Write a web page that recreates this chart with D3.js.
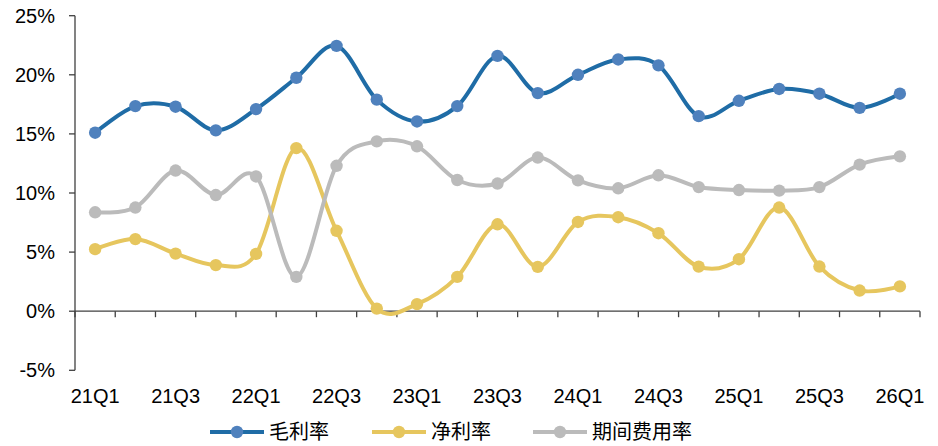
<!DOCTYPE html>
<html>
<head>
<meta charset="utf-8">
<script src="https://cdn.jsdelivr.net/npm/d3@7"></script>
<style>
  body { margin: 0; background: #fff; }
  svg { display: block; }
</style>
</head>
<body>
<svg id="chart" width="938" height="446"></svg>
<script>
// data
const quarters = ['21Q1', '21Q2', '21Q3', '21Q4', '22Q1', '22Q2', '22Q3', '22Q4', '23Q1', '23Q2', '23Q3',
  '23Q4', '24Q1', '24Q2', '24Q3', '24Q4', '25Q1', '25Q2', '25Q3', '25Q4', '26Q1'];
const grossMargin = [15.1, 17.35, 17.3, 15.3, 17.1, 19.75, 22.45, 17.9, 16.05, 17.35, 21.6,
  18.45, 20.0, 21.3, 20.8, 16.5, 17.8, 18.8, 18.4, 17.2, 18.4];
const netMargin = [5.25, 6.1, 4.87, 3.9, 4.85, 13.8, 6.8, 0.22, 0.6, 2.9, 7.35,
  3.75, 7.55, 7.95, 6.6, 3.77, 4.4, 8.77, 3.78, 1.75, 2.1];
const expenseRatio = [8.37, 8.77, 11.9, 9.83, 11.4, 2.9, 12.3, 14.37, 13.95, 11.1, 10.8,
  13.0, 11.07, 10.4, 11.5, 10.5, 10.25, 10.2, 10.5, 12.4, 13.1];
const yTicks = [-5, 0, 5, 10, 15, 20, 25];
const xLabels = ['21Q1', '21Q3', '22Q1', '22Q3', '23Q1', '23Q3', '24Q1', '24Q3', '25Q1', '25Q3', '26Q1'];

const series = [
  { name: '毛利率', values: grossMargin, line: '#1f6ca6', dot: '#4f81bd' },
  { name: '净利率', values: netMargin, line: '#e6c65e', dot: '#e6c65e' },
  { name: '期间费用率', values: expenseRatio, line: '#bbbbbb', dot: '#bbbbbb' }
];

const svg = d3.select('#chart');
const font = '"Liberation Sans", Arial, sans-serif';
const axisColor = '#404040';

const x = d3.scaleBand()
  .domain(quarters)
  .range([75, 920])
  .paddingInner(0)
  .paddingOuter(0);

const y = d3.scaleLinear()
  .domain([-5, 25])
  .range([370.3, 15.7]);

const cx = d => x(d) + x.bandwidth() / 2;

// y axis
svg.append('line')
  .attr('x1', 75).attr('x2', 75)
  .attr('y1', y(25)).attr('y2', y(-5))
  .attr('stroke', axisColor).attr('stroke-width', 1.3);

const yAxis = svg.append('g');
yAxis.selectAll('line')
  .data(yTicks)
  .enter()
  .append('line')
  .attr('x1', 69).attr('x2', 75)
  .attr('y1', d => y(d)).attr('y2', d => y(d))
  .attr('stroke', axisColor).attr('stroke-width', 1.3);

yAxis.selectAll('text')
  .data(yTicks)
  .enter()
  .append('text')
  .attr('x', 55)
  .attr('y', d => y(d))
  .attr('dy', '0.35em')
  .attr('text-anchor', 'end')
  .attr('font-family', font)
  .attr('font-size', 20)
  .attr('fill', '#000')
  .text(d => d + '%');

// x axis at 0%
svg.append('line')
  .attr('x1', 75).attr('x2', 920)
  .attr('y1', y(0)).attr('y2', y(0))
  .attr('stroke', axisColor).attr('stroke-width', 1.3);

svg.append('g')
  .selectAll('line')
  .data(quarters.concat(['end']))
  .enter()
  .append('line')
  .attr('x1', (d, i) => 75 + i * x.bandwidth())
  .attr('x2', (d, i) => 75 + i * x.bandwidth())
  .attr('y1', y(0)).attr('y2', y(0) + 6)
  .attr('stroke', axisColor).attr('stroke-width', 1.3);

svg.append('g')
  .selectAll('text')
  .data(xLabels)
  .enter()
  .append('text')
  .attr('x', d => cx(d))
  .attr('y', 403)
  .attr('text-anchor', 'middle')
  .attr('font-family', font)
  .attr('font-size', 20)
  .attr('fill', '#000')
  .text(d => d);

// lines
const line = d3.line()
  .x((d, i) => cx(quarters[i]))
  .y(d => y(d))
  .curve(d3.curveCatmullRom.alpha(0));

series.forEach(s => {
  const g = svg.append('g');
  g.append('path')
    .datum(s.values)
    .attr('fill', 'none')
    .attr('stroke', s.line)
    .attr('stroke-width', 4)
    .attr('d', line);
  g.selectAll('circle')
    .data(s.values)
    .enter()
    .append('circle')
    .attr('cx', (d, i) => cx(quarters[i]))
    .attr('cy', d => y(d))
    .attr('r', 6.2)
    .attr('fill', s.dot);
});

// legend
const legendX = [210, 372, 533];
const legend = svg.append('g')
  .selectAll('g')
  .data(series)
  .enter()
  .append('g')
  .attr('transform', (d, i) => `translate(${legendX[i]},432)`);

legend.append('line')
  .attr('x1', 0).attr('x2', 54)
  .attr('stroke', d => d.line)
  .attr('stroke-width', 4);

legend.append('circle')
  .attr('cx', 27)
  .attr('r', 6.2)
  .attr('fill', d => d.dot);

legend.append('text')
  .attr('x', 59)
  .attr('dy', '0.35em')
  .attr('font-family', '"Noto Sans CJK SC", sans-serif')
  .attr('font-size', 20)
  .attr('fill', '#000')
  .text(d => d.name);
</script>
</body>
</html>
